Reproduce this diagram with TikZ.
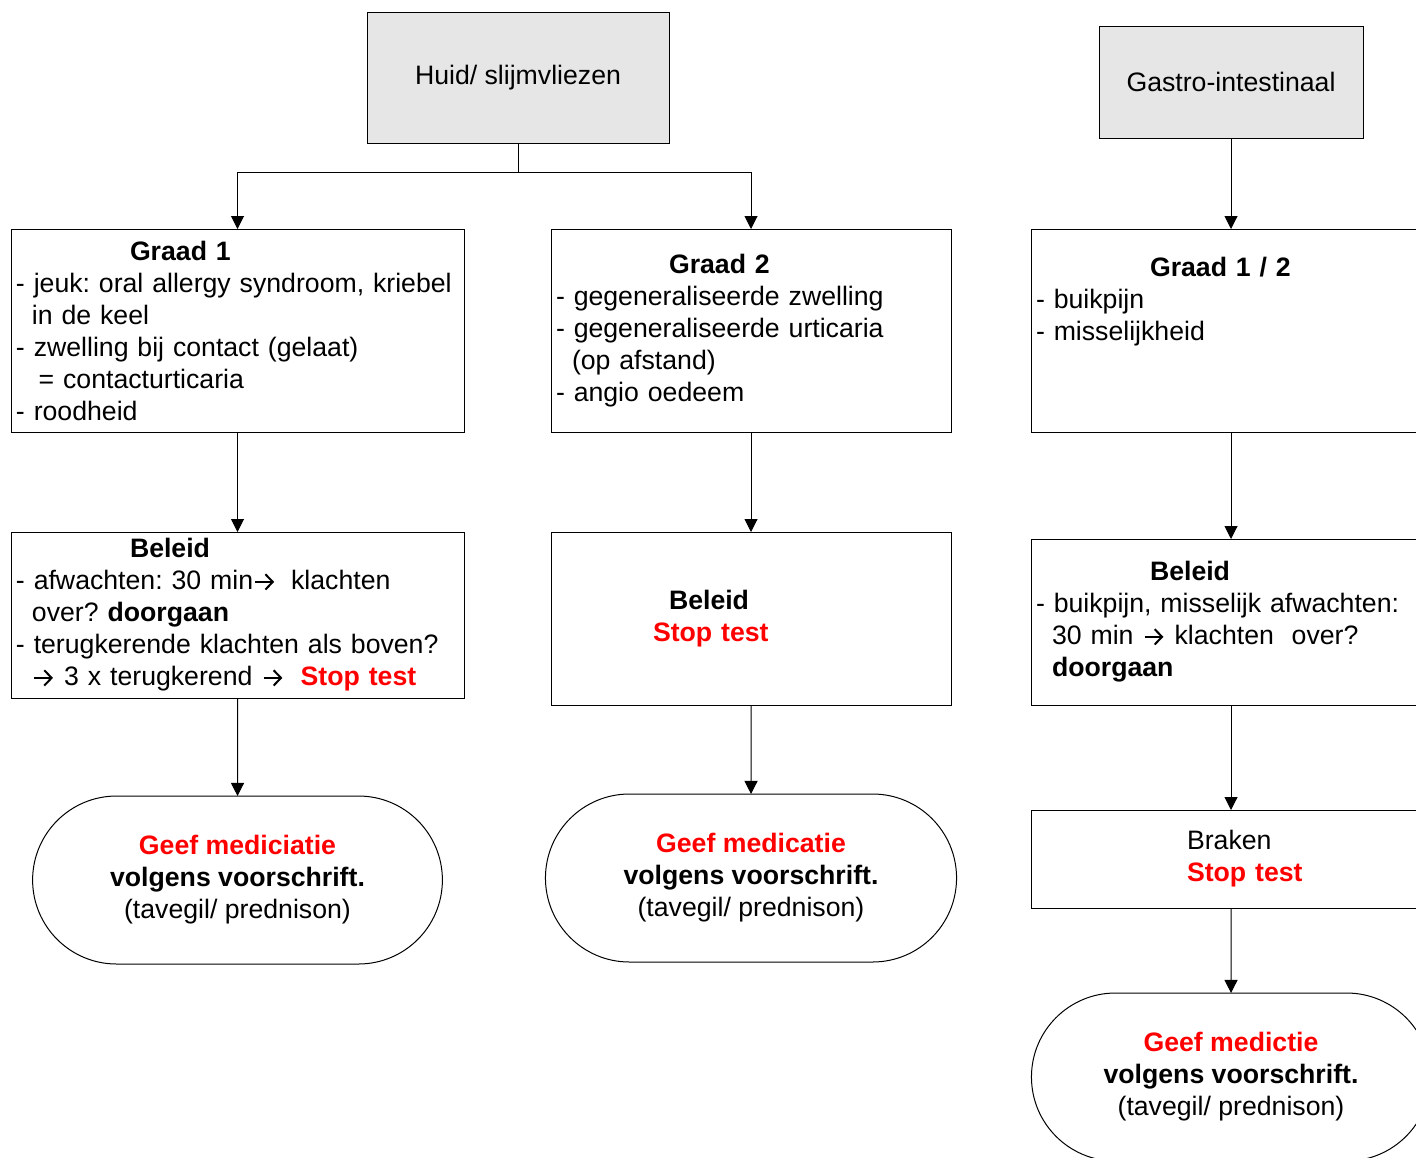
\documentclass[tikz,border=0pt]{standalone}
\usepackage{fontspec}
\setmainfont{Liberation Sans}
\usepackage{xcolor}
\usetikzlibrary{shapes.misc, arrows.meta, positioning}
\definecolor{headgray}{HTML}{E6E6E6}
\definecolor{stopred}{HTML}{FF0000}
\newcommand{\stoptxt}[1]{\textcolor{stopred}{\textbf{#1}}}
\newcommand{\ind}{\hspace*{12pt}}
\newcommand{\ttl}{\hspace*{85.5pt}}
\newcommand{\arr}{\hspace{1pt}\tikz[baseline=0pt]\draw[line width=1.5pt, -{Straight Barb[length=5.5pt, width=11.5pt]}] (0pt,6pt) -- (14pt,6pt);\hspace{1pt}}
\frenchspacing

\begin{document}
\begin{tikzpicture}[x=0.75pt, y=-0.75pt, node distance=75pt, every node/.style={font=\fontsize{20}{24}\selectfont}, head/.style={rectangle, draw, fill=headgray, line width=0.75pt, outer sep=0pt, align=center}, box/.style={rectangle, draw, line width=0.75pt, outer sep=0pt, inner xsep=3.75pt, inner ysep=0pt, align=left}, endbox/.style={rounded rectangle, draw, line width=0.75pt, outer sep=0pt, align=center, minimum height=126pt}, arrow/.style={-{Triangle[width=9.75pt,length=9.75pt]}, line width=0.75pt}]
\useasboundingbox (0,0) rectangle (1416,1157);
\clip (0,0) rectangle (1416,1157);
% top row
\node[head, minimum width=226.5pt, minimum height=98.25pt] (huid) at (518,77.5) {Huid/ slijmvliezen};
\node[head, minimum width=198pt, minimum height=84pt] (gastro) at (1231,82) {Gastro-intestinaal};
% grades
\node[box, text width=332.25pt, minimum height=152.25pt] (graad1) at (237.5,330.5) {\ttl\textbf{Graad 1}\\- jeuk: oral allergy syndroom, kriebel\\\ind in de keel\\- zwelling bij contact (gelaat)\\\hspace*{17pt}= contacturticaria\\- roodheid};
\node[box, text width=292.5pt, minimum height=152.25pt, right=65.25pt of graad1] (graad2) {\hspace*{84.75pt}\textbf{Graad 2}\\- gegeneraliseerde zwelling\\- gegeneraliseerde urticaria\\\ind(op afstand)\\- angio oedeem};
\node[box, text width=292.5pt, minimum height=152.25pt, right=60pt of graad2] (graad3) {\ttl\textbf{Graad 1 / 2}\\- buikpijn\\- misselijkheid\\\mbox{}\\\mbox{}};
% beleid
\node[box, text width=332.25pt, minimum height=124.5pt, below=75pt of graad1] (beleid1) {\ttl\textbf{Beleid}\\- afwachten: 30 min\arr\hspace*{11pt}klachten\\\ind over? \textbf{doorgaan}\\- terugkerende klachten als boven?\\\ind\arr\ 3 x terugkerend \arr\hspace*{12pt}\stoptxt{Stop test}};
\node[box, text width=292.5pt, minimum height=129.75pt, below=75pt of graad2] (beleid2) {\hspace*{84.75pt}\textbf{Beleid}\\\hspace*{72.75pt}\stoptxt{Stop test}};
\node[box, text width=292.5pt, minimum height=124.5pt, below=80.25pt of graad3] (beleid3) {\ttl\textbf{Beleid}\\- buikpijn, misselijk afwachten:\\\ind 30 min \arr\ klachten\ \ over?\\\ind\textbf{doorgaan}};
\node[box, text width=292.5pt, minimum height=73.5pt, below=78.75pt of beleid3] (braken) {\hspace*{113.25pt}Braken\\\hspace*{113.25pt}\stoptxt{Stop test}};
% medicatie
\node[endbox, minimum width=314pt, below=73.5pt of beleid1] (med1) {\stoptxt{Geef mediciatie}\\\textbf{volgens voorschrift.}\\(tavegil/ prednison)};
\node[endbox, minimum width=315pt, below=66.75pt of beleid2] (med2) {\stoptxt{Geef medicatie}\\\textbf{volgens voorschrift.}\\(tavegil/ prednison)};
\node[endbox, minimum width=306pt, below=63.75pt of braken] (med3) {\stoptxt{Geef medictie}\\\textbf{volgens voorschrift.}\\(tavegil/ prednison)};
% connectors
\coordinate (split) at (518,172);
\draw[arrow] (huid.south) -- (split) -| (graad1.north);
\draw[arrow] (split) -| (graad2.north);
\draw[arrow] (gastro) -- (graad3);
\draw[arrow] (graad1) -- (beleid1); \draw[arrow] (beleid1) -- (med1);
\draw[arrow] (graad2) -- (beleid2); \draw[arrow] (beleid2) -- (med2);
\draw[arrow] (graad3) -- (beleid3); \draw[arrow] (beleid3) -- (braken);
\draw[arrow] (braken) -- (med3);
\end{tikzpicture}
\end{document}
